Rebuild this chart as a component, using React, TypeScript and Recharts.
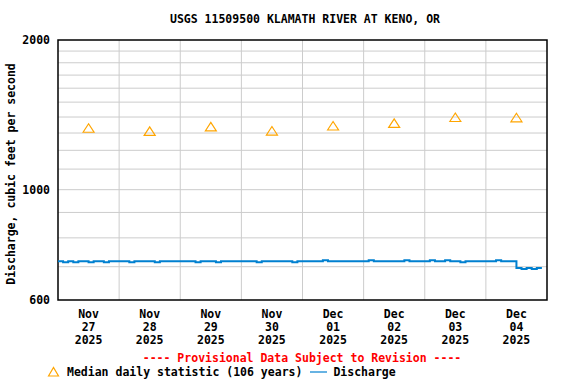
import React from "react"
import {
  ComposedChart,
  Line,
  Scatter,
  XAxis,
  YAxis,
  CartesianGrid,
  ReferenceArea,
} from "recharts"

// day labels (one per day, label sits at noon)
const months = ["Nov", "Nov", "Nov", "Nov", "Dec", "Dec", "Dec", "Dec"]
const days = ["27", "28", "29", "30", "01", "02", "03", "04"]
const years = ["2025", "2025", "2025", "2025", "2025", "2025", "2025", "2025"]

// median daily statistic, cfs
const medians = [1329, 1310, 1337, 1312, 1343, 1359, 1397, 1395]

// discharge every 2 hours from Nov 27 00:00, cfs
const discharge = [
  // Nov 27
  718, 715, 718, 715, 718, 718, 715, 718, 718, 715, 718, 718,
  // Nov 28
  718, 718, 715, 718, 718, 718, 718, 715, 718, 718, 718, 718,
  // Nov 29
  718, 718, 718, 715, 718, 718, 718, 715, 718, 718, 718, 718,
  // Nov 30
  718, 718, 718, 715, 718, 718, 718, 718, 718, 718, 715, 718,
  // Dec 01
  718, 718, 718, 718, 721, 718, 718, 718, 718, 718, 718, 718,
  // Dec 02
  718, 721, 718, 718, 718, 718, 718, 718, 721, 718, 718, 718,
  // Dec 03
  718, 721, 718, 718, 721, 718, 718, 715, 718, 718, 718, 718,
  // Dec 04
  718, 718, 721, 718, 718, 718, 696, 693, 696, 693, 696, 696,
]

const yTicks = [600, 1000, 2000]
const yGrid = [700, 800, 900, 1000, 1100, 1200, 1300, 1400, 1500, 1600, 1700, 1800, 1900]
const xGrid = [1, 2, 3, 4, 5, 6, 7]

const medianData = medians.map((v, i) => ({ x: i + 0.5, y: v }))
const dischargeData = discharge.map((v, i) => ({ x: (i * 2) / 24, y: v }))

const FONT = "'DejaVu Sans Mono', monospace"
const ORANGE = "#ffa500"
const BLUE = "#0080d0"

const Triangle = (props: any) => {
  const { cx, cy } = props
  if (cx == null || cy == null) return null
  return (
    <path
      d={`M${cx - 5.5},${cy + 4} L${cx},${cy - 4.5} L${cx + 5.5},${cy + 4} Z`}
      fill="none"
      stroke={ORANGE}
      strokeWidth={1.2}
    />
  )
}

const DateTick = (props: any) => {
  const { x, y, payload } = props
  const i = Math.floor(payload.value)
  return (
    <text x={x} y={y} textAnchor="middle" fontFamily={FONT} fontWeight="bold" fontSize={11.5} fill="#000">
      <tspan x={x} dy={10}>{months[i]}</tspan>
      <tspan x={x} dy={13}>{days[i]}</tspan>
      <tspan x={x} dy={13}>{years[i]}</tspan>
    </text>
  )
}

export default function App() {
  return (
    <div style={{ position: "absolute", left: 0, top: 0, width: 576, height: 384, background: "#fff" }}>
      <div
        style={{
          position: "absolute",
          top: 12,
          left: 0,
          width: 610,
          textAlign: "center",
          fontFamily: FONT,
          fontWeight: "bold",
          fontSize: 11.5,
        }}
      >
        USGS 11509500 KLAMATH RIVER AT KENO, OR
      </div>
      <ComposedChart
        width={576}
        height={384}
        margin={{ top: 40, right: 29, left: 0, bottom: 34 }}
      >
        <CartesianGrid
          stroke="#cccccc"
          horizontalValues={yGrid}
          verticalValues={xGrid}
          fill="none"
        />
        <XAxis
          dataKey="x"
          type="number"
          domain={[0, 8]}
          ticks={[0.5, 1.5, 2.5, 3.5, 4.5, 5.5, 6.5, 7.5]}
          tick={<DateTick />}
          tickLine={false}
          axisLine={false}
          height={50}
          allowDataOverflow
          interval={0}
        />
        <YAxis
          dataKey="y"
          type="number"
          scale="log"
          domain={[600, 2000]}
          ticks={yTicks}
          tickLine={false}
          axisLine={false}
          width={58}
          allowDataOverflow
          interval={0}
          tick={{ fontFamily: FONT, fontWeight: "bold", fontSize: 11.5, fill: "#000" }}
          label={{
            value: "Discharge, cubic feet per second",
            angle: -90,
            position: "insideLeft",
            offset: 11,
            dy: 4,
            style: { fontFamily: FONT, fontWeight: "bold", fontSize: 11.5, fill: "#000", textAnchor: "middle" },
          }}
        />
        <Line
          data={dischargeData}
          dataKey="y"
          type="stepAfter"
          stroke={BLUE}
          strokeWidth={2}
          dot={false}
          isAnimationActive={false}
        />
        <Scatter
          data={medianData}
          dataKey="y"
          shape={<Triangle />}
          isAnimationActive={false}
        />
        <ReferenceArea x1={0} x2={8} y1={600} y2={2000} fill="none" stroke="#000" strokeWidth={1.5} ifOverflow="visible" />
      </ComposedChart>
      <div
        style={{
          position: "absolute",
          top: 351,
          left: 0,
          width: 604,
          textAlign: "center",
          fontFamily: FONT,
          fontWeight: "bold",
          fontSize: 11.5,
          color: "#ff0000",
          whiteSpace: "pre",
        }}
      >
        ---- Provisional Data Subject to Revision ----
      </div>
      <div
        style={{
          position: "absolute",
          top: 365,
          left: 47,
          display: "flex",
          alignItems: "center",
          fontFamily: FONT,
          fontWeight: "bold",
          fontSize: 11.5,
          color: "#000",
          whiteSpace: "pre",
        }}
      >
        <svg width={14} height={12} style={{ marginRight: 6 }}>
          <path d="M1.5,10 L6.5,1.5 L11.5,10 Z" fill="none" stroke={ORANGE} strokeWidth={1.2} />
        </svg>
        <span>Median daily statistic (106 years)</span>
        <svg width={24} height={12} style={{ marginLeft: 6 }}>
          <line x1={2} y1={6} x2={19} y2={6} stroke={BLUE} strokeWidth={1.2} />
        </svg>
        <span style={{ marginLeft: 1 }}>Discharge</span>
      </div>
    </div>
  )
}
